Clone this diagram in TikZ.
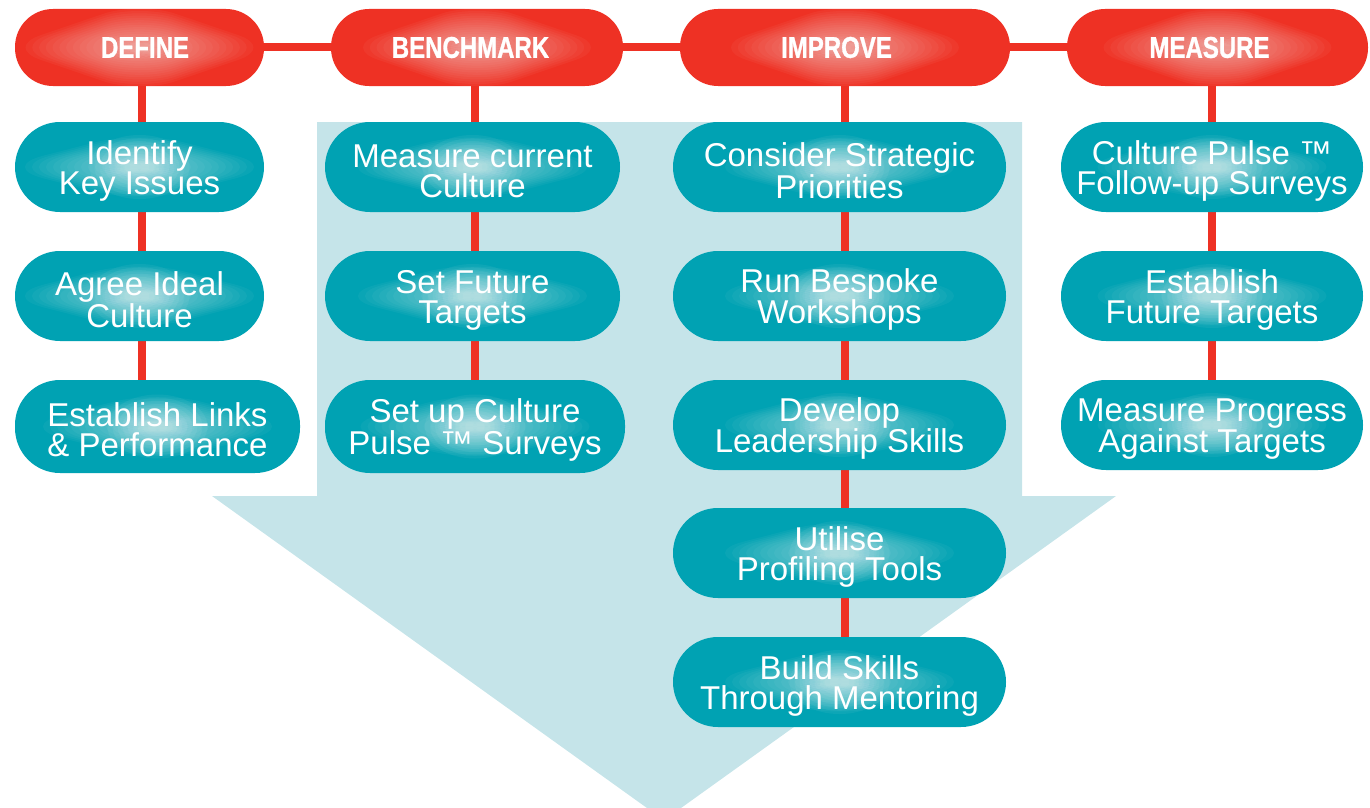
\documentclass[tikz,border=0pt]{standalone}
\usepackage{fontspec}
\setmainfont{Liberation Sans}
\newfontfamily\headfont[FakeStretch=0.8,FakeBold=1]{Liberation Sans}
\usetikzlibrary{backgrounds}
\definecolor{redc}{HTML}{EE3124}
\definecolor{tealc}{HTML}{00A2B3}
\definecolor{arrowc}{HTML}{C5E4E9}
\newcommand\toprule{\rule{0pt}{31pt}}
\begin{document}
\begin{tikzpicture}[x=1pt,y=-1pt,
  phase/.style={fill=redc, rounded corners=38pt, minimum height=77pt, inner sep=0pt,
    text=white, font=\headfont\bfseries\fontsize{30}{30}\selectfont,
    path picture={
      \foreach \s in {1,0.95,...,0.04}{
        \fill[white, fill opacity=0.04] (path picture bounding box.center)
          +(-135*\s,0) -- +(0,-46*\s) -- +(135*\s,0) -- +(0,46*\s) -- cycle;}}},
  stepbox/.style={fill=tealc, rounded corners=45pt, minimum height=90pt, inner sep=0pt,
    text=white, align=center, font=\fontsize{33}{30}\selectfont,
    path picture={
      \foreach \s in {1,0.95,...,0.04}{
        \fill[white, fill opacity=0.04] (path picture bounding box.center)
          +(-140*\s,0) -- +(0,-36*\s) -- +(140*\s,0) -- +(0,36*\s) -- cycle;}
      \foreach \s in {1,0.9,...,0.1}{
        \fill[white, fill opacity=0.05] (path picture bounding box.center)
          ellipse [x radius=50*\s, y radius=32*\s];}}},
  link/.style={draw=redc, line width=8pt}]
\useasboundingbox (0,0) rectangle (1370,808);

% phases
\node[phase, minimum width=249pt] (define)  at (139.5,47.5) {\hspace*{11pt}DEFINE};
\node[phase, minimum width=292pt] (bench)   at (477,47.5)   {BENCHMARK\hspace*{13pt}};
\node[phase, minimum width=330pt] (improve) at (845,47.5)   {IMPROVE\hspace*{17pt}};
\node[phase, minimum width=301pt] (measure) at (1217.5,47.5) {MEASURE\hspace*{16pt}};

% define column
\node[stepbox, minimum width=249pt] (k1) at (139.5,167) {\toprule Identify\\Key Issues};
\node[stepbox, minimum width=249pt] (k2) at (139.5,296) {\toprule Agree Ideal\\Culture};
\node[stepbox, minimum width=285pt, minimum height=93pt] (k3) at (157.5,426.5) {\toprule Establish Links\\\& Performance};

% benchmark column
\node[stepbox, minimum width=295pt] (b1) at (472.5,167) {\toprule Measure current\\Culture};
\node[stepbox, minimum width=295pt] (b2) at (472.5,296) {\toprule Set Future\\Targets};
\node[stepbox, minimum width=300pt, minimum height=93pt] (b3) at (475,426.5) {\toprule Set up Culture\\Pulse ™ Surveys};

% improve column
\node[stepbox, minimum width=333pt] (i1) at (839.5,167) {\toprule Consider Strategic\\Priorities};
\node[stepbox, minimum width=333pt] (i2) at (839.5,296) {\toprule Run Bespoke\\Workshops};
\node[stepbox, minimum width=333pt] (i3) at (839.5,425) {\toprule Develop\\Leadership Skills};
\node[stepbox, minimum width=333pt] (i4) at (839.5,553) {\toprule Utilise\\Profiling Tools};
\node[stepbox, minimum width=333pt] (i5) at (839.5,682) {\toprule Build Skills\\Through Mentoring};

% measure column
\node[stepbox, minimum width=302pt] (m1) at (1212,167) {\toprule Culture Pulse ™\\Follow-up Surveys};
\node[stepbox, minimum width=302pt] (m2) at (1212,296) {\toprule Establish\\Future Targets};
\node[stepbox, minimum width=302pt] (m3) at (1212,425) {\toprule Measure Progress\\Against Targets};

\begin{pgfonlayer}{background}
  \fill[arrowc] (317,122) -- (1022,122) -- (1022,496) -- (1116,496) -- (681,808)
     -- (647,808) -- (212,496) -- (317,496) -- cycle;
  \draw[link] (define.center) -- (measure.center);
  \draw[link] ([xshift=2.5pt]define.center) -- ([xshift=2.5pt]define.center |- k3.center);
  \draw[link] ([xshift=-2pt]bench.center) -- ([xshift=-2pt]bench.center |- b3.center);
  \draw[link] (improve.center) -- (improve.center |- i5.center);
  \draw[link] (m1.center |- measure.center) -- (m3.center);
\end{pgfonlayer}
\end{tikzpicture}
\end{document}
